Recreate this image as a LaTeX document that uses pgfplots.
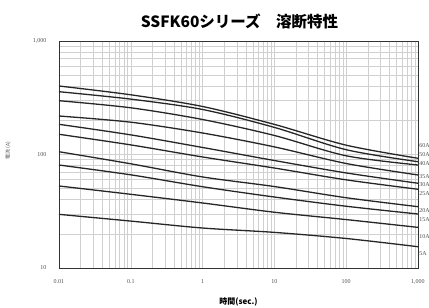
\documentclass[border=0pt]{standalone}
\usepackage{pgfplots}
\pgfplotsset{compat=1.18}
\usetikzlibrary{calc}
\usepackage{fontspec}
\setmainfont{Liberation Serif}
\newfontfamily\jp{Noto Sans CJK JP}
\definecolor{gridc}{RGB}{208,208,208}
\definecolor{labc}{RGB}{80,80,80}
\tikzset{fc/.style={draw=black!85, line width=1.3pt, smooth, mark=none}}
\begin{document}
\begin{tikzpicture}
\begin{axis}[name=ax,
  scale only axis, width=359pt, height=227pt,
  xmode=log, ymode=log,
  xmin=0.01, xmax=1000, ymin=10, ymax=1000,
  xtick={0.01,0.1,1,10,100,1000},
  xticklabels={0.01,0.1,1,10,100,{1,000}},
  ytick={10,100,1000},
  yticklabels={10,100,{1,000}},
  tick label style={font=\fontsize{6}{7}\selectfont, text=labc},
  xticklabel style={yshift=-8pt},
  yticklabel style={xshift=-9pt},
  grid=both,
  major grid style={gridc, line width=0.5pt},
  minor grid style={gridc, line width=0.4pt},
  tick style={draw=none},
  axis line style={black!80, line width=0.7pt},
  xlabel={\jp\bfseries\fontsize{8}{9}\selectfont 時間(sec.)},
  xlabel style={yshift=-6pt},
  clip=false,
]
% 60A
\addplot[fc] coordinates {(0.01,401.4) (0.1,335.7) (1,264.8) (10,184.2) (100,120.8) (1000,92.6)};
% 50A
\addplot[fc] coordinates {(0.01,357.5) (0.1,307.6) (1,249.2) (10,173.3) (100,110.2) (1000,86.4)};
% 40A
\addplot[fc] coordinates {(0.01,297.9) (0.1,257.9) (1,203.4) (10,147.1) (100,97.4) (1000,80.8)};
% 35A
\addplot[fc] coordinates {(0.01,218.4) (0.1,192.6) (1,154.7) (10,116.7) (100,83.3) (1000,66.0)};
% 30A
\addplot[fc] coordinates {(0.01,184.5) (0.1,148.9) (1,115.3) (10,88.5) (100,68.8) (1000,55.8)};
% 25A
\addplot[fc] coordinates {(0.01,150.7) (0.1,121.5) (1,95.1) (10,76.0) (100,59.8) (1000,49.4)};
% 20A
\addplot[fc] coordinates {(0.01,105.8) (0.1,82.8) (1,63.4) (10,52.2) (100,41.6) (1000,34.7)};
% 15A
\addplot[fc] coordinates {(0.01,80.8) (0.1,66.2) (1,52.0) (10,42.2) (100,35.0) (1000,29.9)};
% 10A
\addplot[fc] coordinates {(0.01,52.8) (0.1,44.6) (1,37.4) (10,31.0) (100,26.7) (1000,22.8)};
% 5A
\addplot[fc] coordinates {(0.01,29.7) (0.1,25.9) (1,22.5) (10,20.6) (100,18.2) (1000,15.4)};
\foreach \v/\t in {121/60A,100.9/50A,83.6/40A,63.8/35A,54.6/30A,44.9/25A,32.4/20A,26.9/15A,19.1/10A,13.5/5A}{
  \edef\tmp{\noexpand\node[anchor=west, inner sep=0pt, xshift=1.2pt, text=labc, font=\noexpand\fontsize{6}{7}\noexpand\selectfont] at (axis cs:1000,\v) {\t};}
  \tmp
}
\end{axis}
\node[font=\jp\bfseries\fontsize{15.5}{17}\selectfont] at ($(ax.north)+(1pt,20pt)$) {SSFK60シリーズ　溶断特性};
\node[rotate=90, text=labc, font=\jp\fontsize{5}{6}\selectfont] at ($(ax.west)+(-51pt,4pt)$) {電流 (A)};
\pgfresetboundingbox
\path[use as bounding box] ($(ax.south west)+(-59pt,-40pt)$) rectangle ($(ax.north east)+(11pt,41pt)$);
\end{tikzpicture}
\end{document}
